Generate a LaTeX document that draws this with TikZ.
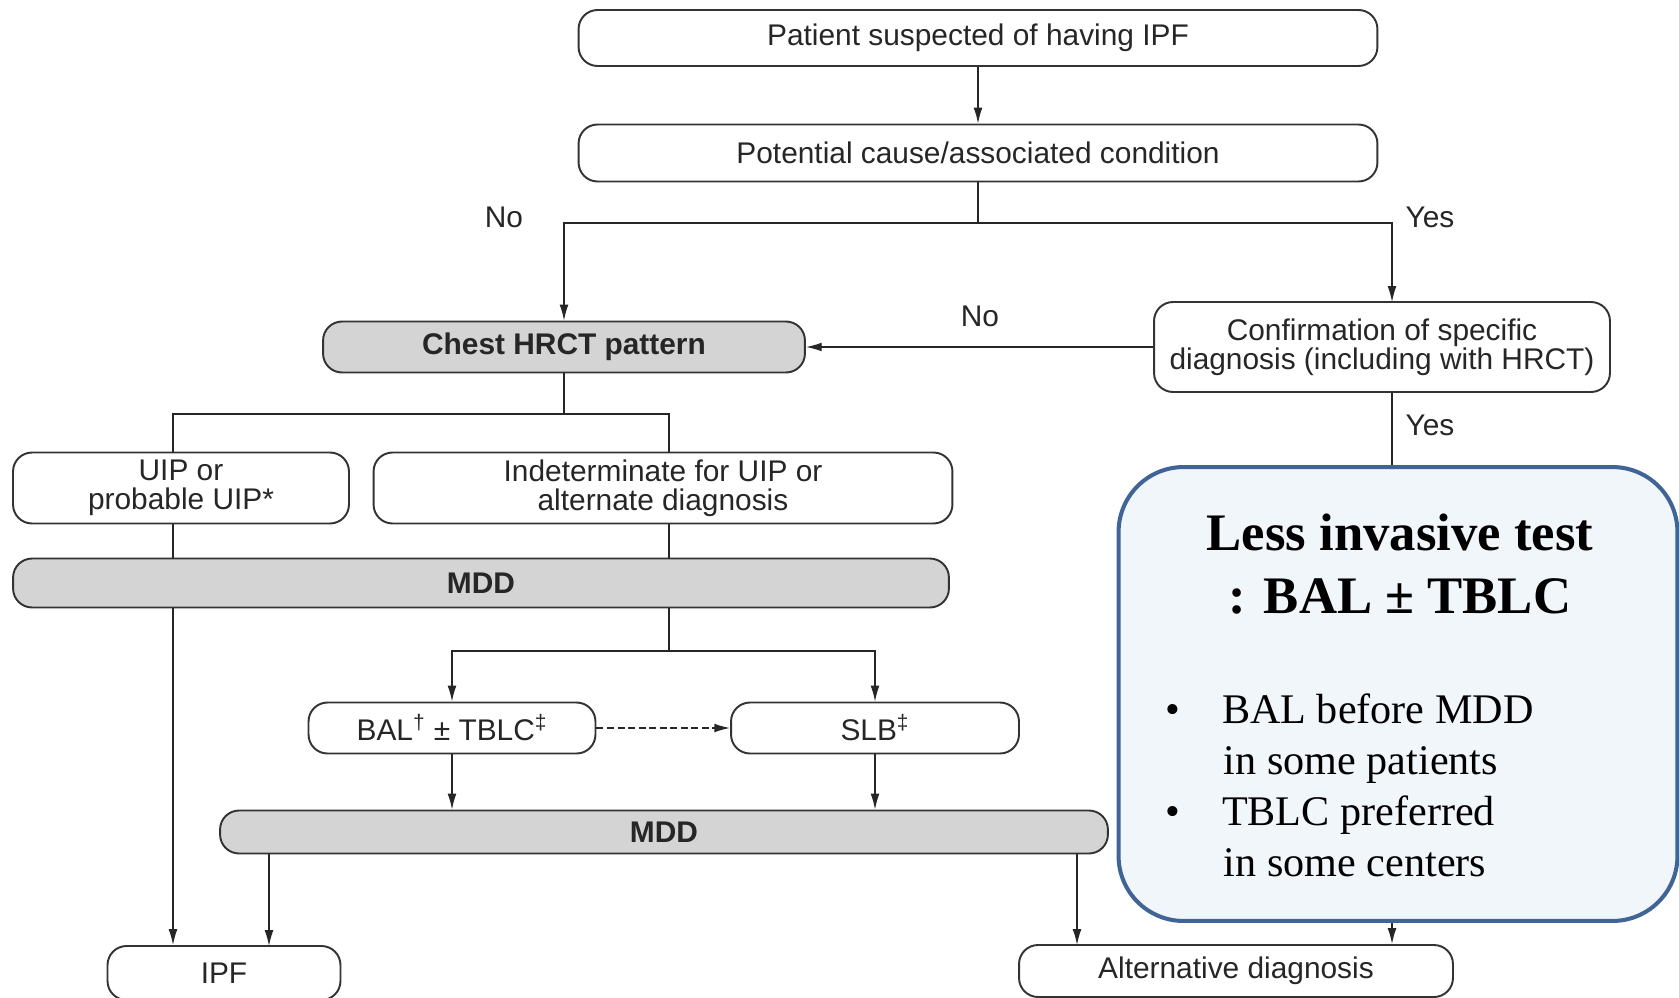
\documentclass[tikz,border=0pt]{standalone}
\usepackage{fontspec}
\setmainfont{Liberation Sans}
\newfontfamily\notefont{Liberation Serif}
\usetikzlibrary{arrows.meta}
\definecolor{boxgrey}{RGB}{212,212,212}
\definecolor{notefill}{RGB}{241,246,251}
\definecolor{noteedge}{RGB}{65,100,150}

\begin{document}
\begin{tikzpicture}[x=0.02cm, y=-0.02cm, >={Latex[length=9pt,width=5pt]},
  font=\fontsize{17}{16.5}\selectfont,
  box/.style={draw=black!80, line width=1.1pt, rounded corners=3.8mm, align=center, inner sep=2pt, text=black!85},
  grey/.style={box, fill=boxgrey, font=\fontsize{17}{16.5}\selectfont\bfseries},
  line/.style={black!85, line width=0.75pt},
  lab/.style={font=\fontsize{17}{17}\selectfont, text=black!85}]
\useasboundingbox (0,0) rectangle (1679,997);
\node[box, minimum width=15.98cm, minimum height=1.12cm] (patient) at (978,38) {Patient suspected of having IPF};
\node[box, minimum width=15.98cm, minimum height=1.14cm] (cause) at (978,153) {Potential cause/associated condition};
\node[grey, minimum width=9.64cm, minimum height=1.02cm] (hrct) at (564,347) {Chest HRCT pattern};
\node[box, minimum width=9.12cm, minimum height=1.8cm] (confirm) at (1382,347) {Confirmation of specific\\diagnosis (including with HRCT)};
\node[box, minimum width=6.72cm, minimum height=1.42cm] (uip) at (181,488) {UIP or\\probable UIP*};
\node[box, minimum width=11.58cm, minimum height=1.42cm] (indet) at (663,488) {Indeterminate for UIP or\\alternate diagnosis};
\node[grey, minimum width=18.72cm, minimum height=0.98cm] (mdda) at (481,583) {MDD};
\node[box, minimum width=5.74cm, minimum height=1.02cm] (bal) at (452,728) {BAL\textsuperscript{†} ± TBLC\textsuperscript{‡}};
\node[box, minimum width=5.76cm, minimum height=1.02cm] (slb) at (875,728) {SLB\textsuperscript{‡}};
\node[grey, minimum width=17.76cm, minimum height=0.86cm] (mddb) at (664,832) {MDD};
\node[box, minimum width=4.66cm, minimum height=1.08cm] (ipf) at (224,973) {IPF};
\node[box, minimum width=8.68cm, minimum height=1.04cm] (alt) at (1236,971) {Alternative diagnosis};
\coordinate (split1) at (978,223);
\coordinate (split2) at (564,414);
\coordinate (split3) at (669,651);
\coordinate (uipx) at (173,453);
\coordinate (indx) at (669,453);
\coordinate (confx) at (1392,302);
\coordinate (ipfin) at (269,946);
\coordinate (altin) at (1077,945);
\draw[line,->] (patient) -- (cause);
\draw[line] (cause) -- (split1);
\draw[line,->] (split1) -| (hrct);
\draw[line,->] (split1) -| (confx);
\draw[line,->] (confirm) -- (hrct);
\draw[line] (hrct) -- (split2);
\draw[line] (split2) -| (uipx);
\draw[line] (split2) -| (indx);
\draw[line] (uipx |- uip.south) -- (uipx |- mdda.north);
\draw[line,->] (uipx |- mdda.south) -- (uipx |- ipf.north);
\draw[line] (indx |- indet.south) -- (indx |- mdda.north);
\draw[line] (indx |- mdda.south) -- (split3);
\draw[line,->] (split3) -| (bal);
\draw[line,->] (split3) -| (slb);
\draw[line,->,dash pattern=on 4pt off 2pt] (bal) -- (slb);
\draw[line,->] (bal) -- (bal |- mddb.north);
\draw[line,->] (slb) -- (slb |- mddb.north);
\draw[line,->] (ipfin |- mddb.south) -- (ipfin);
\draw[line,->] (altin |- mddb.south) -- (altin);
\draw[line,->] (confx |- confirm.south) -- (confx |- alt.north);
\node[lab] (no1) at (504,217) {No};
\node[lab] (yes1) at (1430,217) {Yes};
\node[lab] (no2) at (980,316) {No};
\node[lab] (yes2) at (1430,425) {Yes};
% note box
\node[draw=noteedge, fill=notefill, line width=2.3pt, rounded corners=1.3cm, minimum width=11.18cm, minimum height=9.08cm] (note) at (1398,694) {};
\node[font=\notefont\bfseries\fontsize{30}{36}\selectfont, align=center] (notetitle) at (1400,564) {Less invasive test\\: BAL ± TBLC};
\node[anchor=west, inner sep=0pt, font=\notefont\fontsize{24}{29}\selectfont] (notelist) at (1165,790) {\begin{tabular}{@{}l@{\hspace{0.84cm}}l@{}}
• & BAL before MDD\\
 & \kern1pt in some patients\\
• & TBLC preferred\\
 & \kern1pt in some centers
\end{tabular}};
\end{tikzpicture}
\end{document}
